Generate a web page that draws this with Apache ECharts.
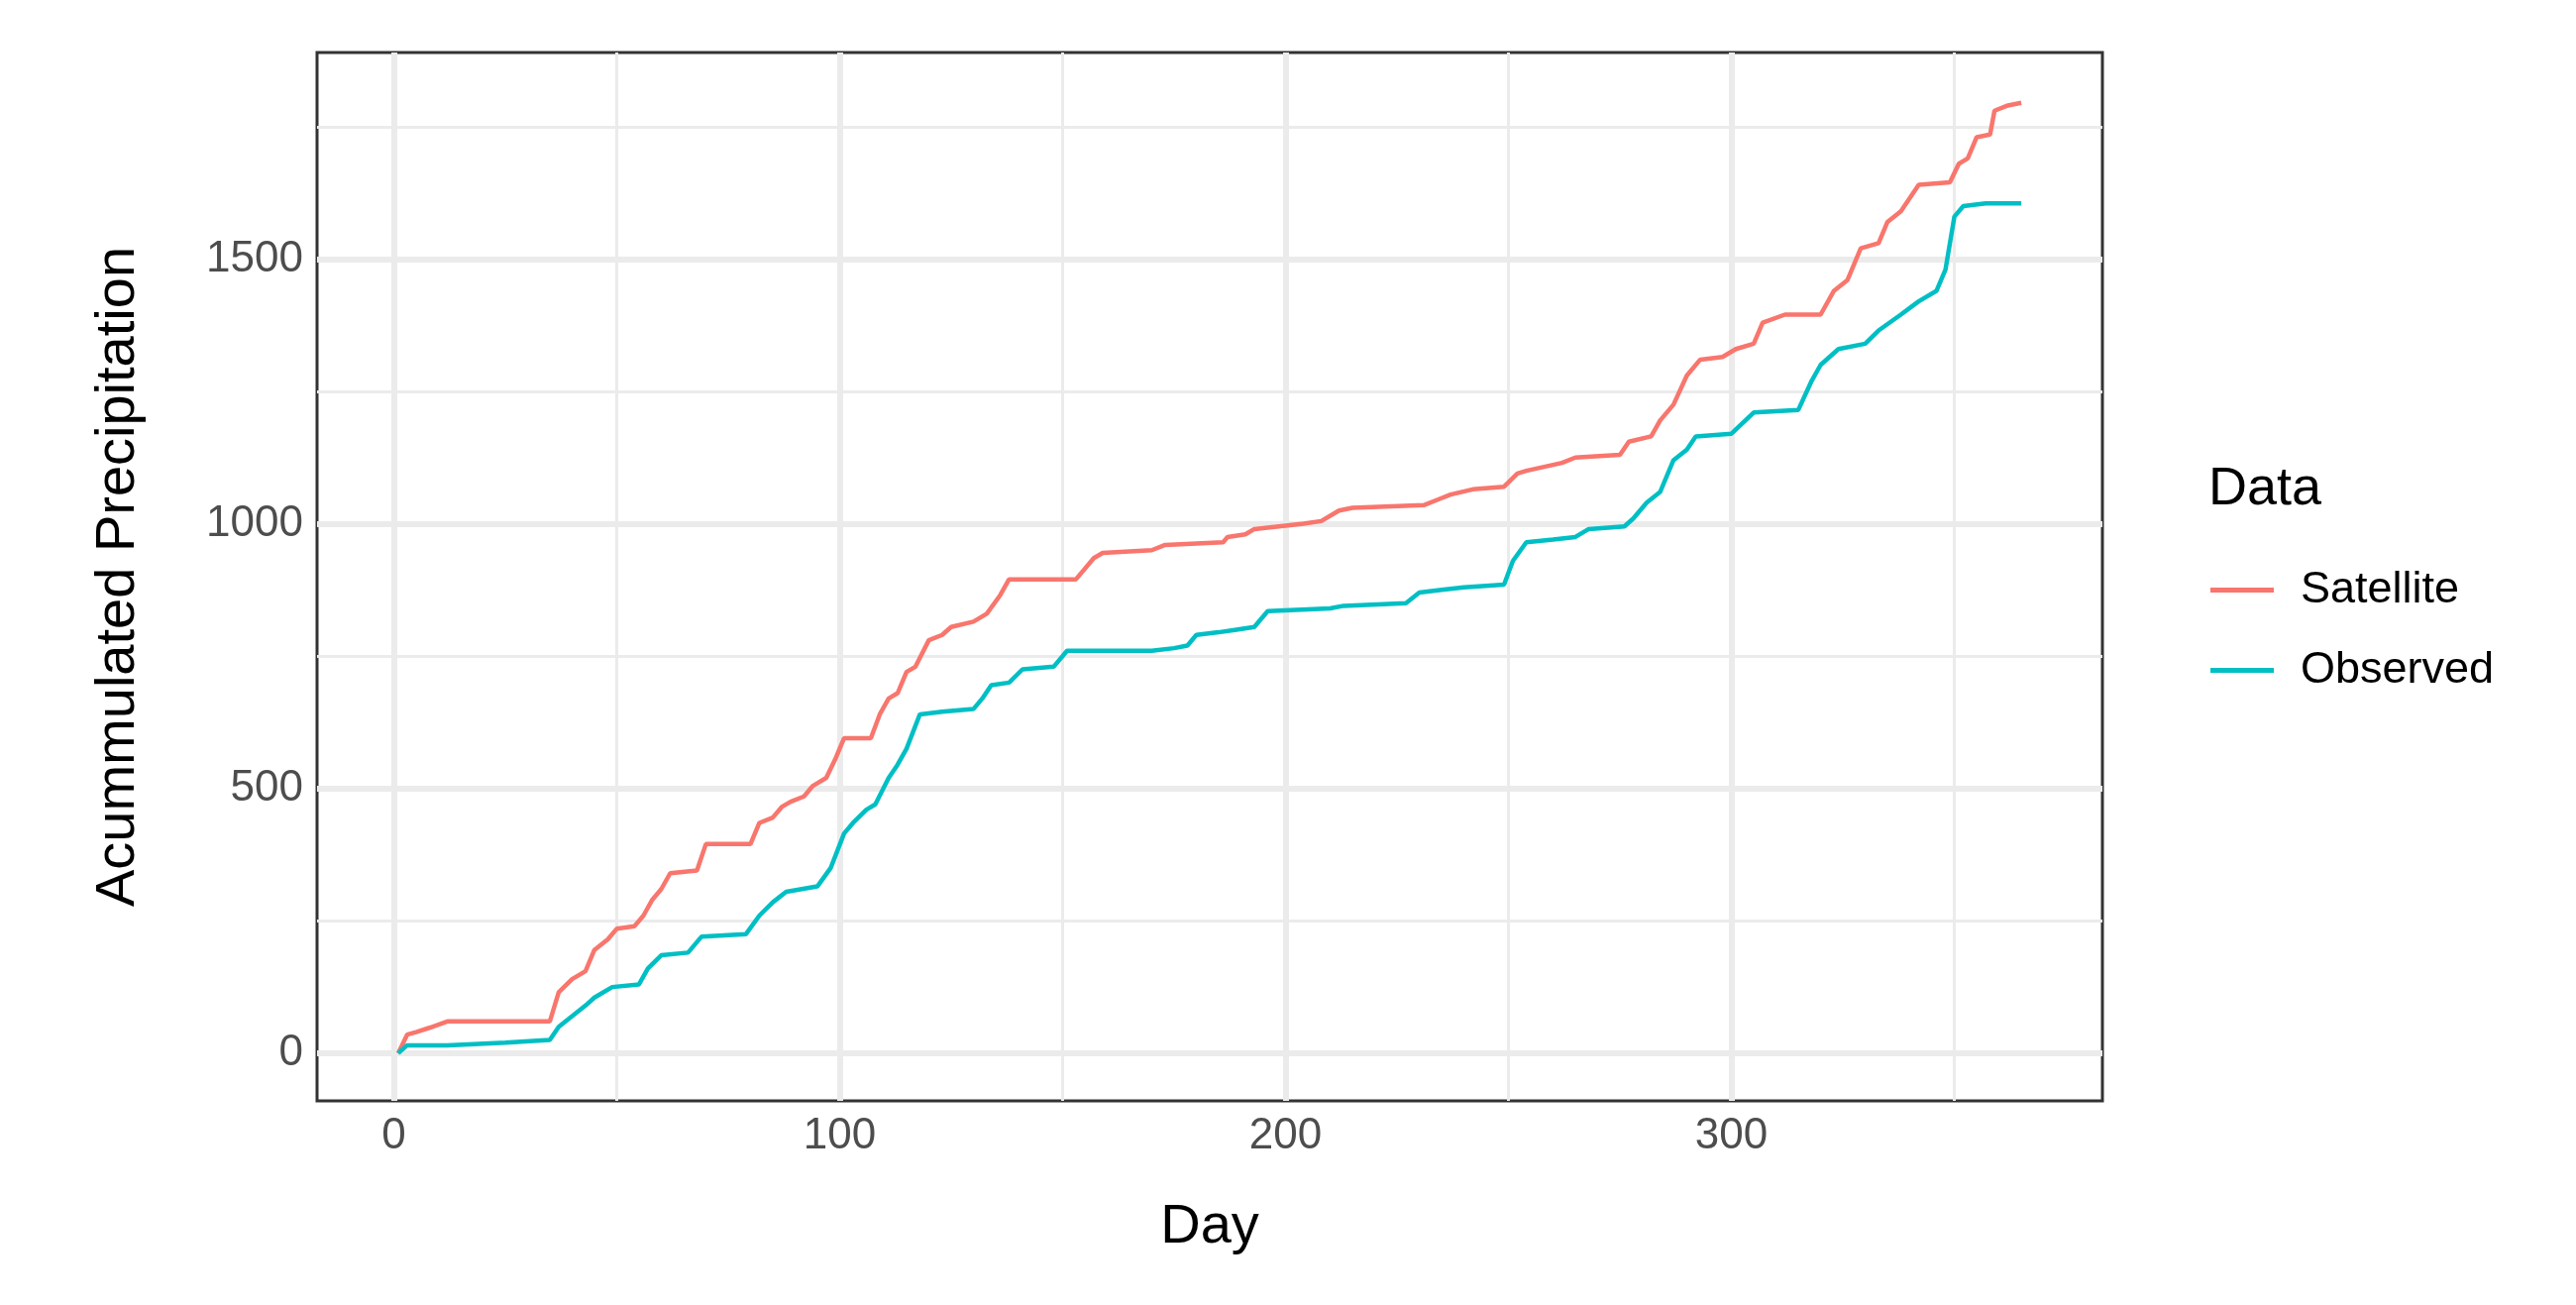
<!DOCTYPE html>
<html><head><meta charset="utf-8">
<script src="https://cdn.jsdelivr.net/npm/echarts@6/dist/echarts.min.js"></script>
<style>html,body{margin:0;padding:0;background:#fff}#c{width:2600px;height:1317px}</style>
</head><body><div id="c"></div>
<script>
const satDays = [1,3,5,8,12,35,37,40,43,45,48,50,54,56,58,60,62,68,70,80,82,85,87,89,92,94,97,99,101,107,109,111,113,115,117,120,123,125,130,133,136,138,153,157,159,170,173,186,187,191,193,204,208,212,215,231,234,237,242,249,252,254,262,265,275,277,282,284,287,290,293,298,301,305,307,312,320,323,326,329,333,335,338,342,349,351,353,355,358,359,362,365];
const satVals = [0,35,40,48,60,60,115,140,155,195,215,235,240,260,290,310,340,345,395,395,435,445,465,475,485,505,520,555,595,595,640,670,680,720,730,780,790,805,815,830,865,895,895,935,945,950,960,965,975,980,990,1000,1005,1025,1030,1035,1045,1055,1065,1070,1095,1100,1115,1125,1130,1155,1165,1195,1225,1280,1310,1315,1330,1340,1380,1395,1395,1440,1460,1520,1530,1570,1590,1640,1645,1680,1690,1730,1735,1780,1790,1795];
const obsDays = [1,3,12,25,35,37,40,43,45,49,55,57,60,66,69,79,82,85,88,95,98,101,103,106,108,111,113,115,118,123,130,132,134,138,141,148,151,170,175,178,180,185,189,193,196,210,213,227,230,235,240,249,251,254,260,265,268,276,278,281,284,287,290,292,300,305,315,318,320,324,330,333,338,342,346,348,350,352,357,365];
const obsVals = [0,15,15,20,25,50,70,90,105,125,130,160,185,190,220,225,260,285,305,315,350,415,435,460,470,520,545,575,640,645,650,670,695,700,725,730,760,760,765,770,790,795,800,805,835,840,845,850,870,875,880,885,930,965,970,975,990,995,1010,1040,1060,1120,1140,1165,1170,1210,1215,1270,1300,1330,1340,1365,1395,1420,1440,1480,1580,1600,1605,1605];
const xTicks = [0,100,200,300];
const xMinor = [50,150,250,350];
const yTicks = [0,500,1000,1500];
const yMinor = [250,750,1250,1750];

const pair = (d,v) => d.map((x,i)=>[x,v[i]]);
const gl = (arr,key,w) => arr.map(v=>({[key]:v, lineStyle:{color:'#ebebeb',width:w,type:'solid'}}));
const chart = echarts.init(document.getElementById('c'));
chart.setOption({
  animation:false,
  backgroundColor:'#fff',
  title:{text:'Data',left:2224,top:462,textStyle:{fontFamily:'Liberation Sans',fontSize:54,fontWeight:'normal',color:'#000'}},
  legend:{left:2226,top:568,orient:'vertical',itemGap:36,itemWidth:64,itemHeight:5,icon:'rect',
    textStyle:{fontFamily:'Liberation Sans',fontSize:45,color:'#000',padding:[0,0,0,22]},
    data:['Satellite','Observed']},
  grid:{left:320,right:478,top:53,bottom:206,show:true,borderColor:'#333',borderWidth:3,backgroundColor:'#fff'},
  xAxis:{type:'value',min:-17.2,max:383.2,name:'Day',nameLocation:'middle',nameGap:100,
    nameTextStyle:{fontFamily:'Liberation Sans',fontSize:56,color:'#000'},
    axisLine:{show:false},splitLine:{show:false},
    axisTick:{show:true,length:8,lineStyle:{color:'#333',width:3},customValues:xTicks},
    axisLabel:{customValues:xTicks,formatter:v=>String(v),fontFamily:'Liberation Sans',fontSize:44,color:'#4d4d4d',margin:14}},
  yAxis:{type:'value',min:-90,max:1890,name:'Acummulated Precipitation',nameLocation:'middle',nameGap:172,
    nameTextStyle:{fontFamily:'Liberation Sans',fontSize:56,color:'#000'},
    axisLine:{show:false},splitLine:{show:false},
    axisTick:{show:true,length:8,lineStyle:{color:'#333',width:3},customValues:yTicks},
    axisLabel:{customValues:yTicks,formatter:v=>String(v),fontFamily:'Liberation Sans',fontSize:44,color:'#4d4d4d',margin:14}},
  series:[
    {type:'line',data:[],silent:true,zlevel:0,z:1,markLine:{silent:true,symbol:'none',label:{show:false},animation:false,
      data:[...gl(xMinor,'xAxis',3),...gl(yMinor,'yAxis',3),...gl(xTicks,'xAxis',6),...gl(yTicks,'yAxis',6)]}},
    {name:'Satellite',type:'line',showSymbol:false,data:pair(satDays,satVals),zlevel:1,
      lineStyle:{color:'#F8766D',width:4.5},itemStyle:{color:'#F8766D'},z:3},
    {name:'Observed',type:'line',showSymbol:false,data:pair(obsDays,obsVals),zlevel:1,
      lineStyle:{color:'#00BFC4',width:4.5},itemStyle:{color:'#00BFC4'},z:3}
  ]
});
</script></body></html>
